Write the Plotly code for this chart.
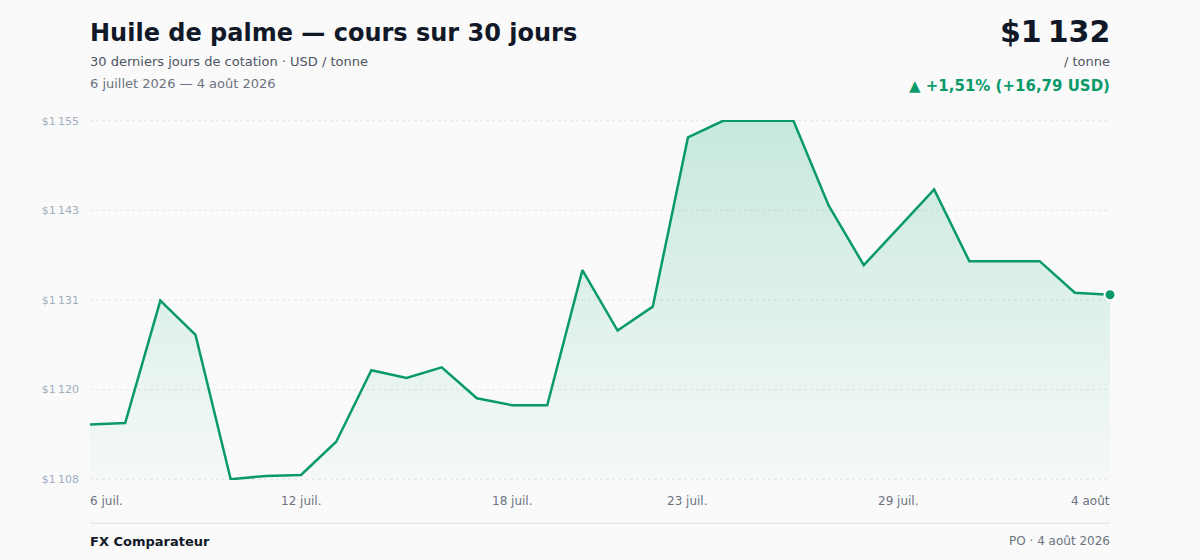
import plotly.graph_objects as go

# Données : cours quotidien de l'huile de palme (USD / tonne)
dates = [
    "2026-07-06", "2026-07-07", "2026-07-08", "2026-07-09", "2026-07-10",
    "2026-07-11", "2026-07-12", "2026-07-13", "2026-07-14", "2026-07-15",
    "2026-07-16", "2026-07-17", "2026-07-18", "2026-07-19", "2026-07-20",
    "2026-07-21", "2026-07-22", "2026-07-23", "2026-07-24", "2026-07-25",
    "2026-07-26", "2026-07-27", "2026-07-28", "2026-07-29", "2026-07-30",
    "2026-07-31", "2026-08-01", "2026-08-02", "2026-08-03", "2026-08-04",
]
prices = [
    1115.07, 1115.25, 1131.26, 1126.79, 1107.90,
    1108.33, 1108.46, 1112.81, 1122.17, 1121.15,
    1122.53, 1118.49, 1117.58, 1117.58, 1135.26,
    1127.35, 1130.48, 1152.62, 1154.80, 1154.80,
    1154.80, 1143.73, 1135.91, 1140.86, 1145.81,
    1136.43, 1136.43, 1136.43, 1132.30, 1132.04,
]

x_tick_dates = ["2026-07-06", "2026-07-12", "2026-07-18", "2026-07-23", "2026-07-29", "2026-08-04"]
x_tick_labels = ["6 juil.", "12 juil.", "18 juil.", "23 juil.", "29 juil.", "4 août"]
y_tick_labels = ["$1\u2009108", "$1\u2009120", "$1\u2009131", "$1\u2009143", "$1\u2009155"]

GREEN = "#0a9a6a"
FONT = "DejaVu Sans"

y_min, y_max = min(prices), max(prices)
y_ticks = [y_min + i * (y_max - y_min) / 4 for i in range(5)]

fig = go.Figure()

# lignes de grille pointillées (aussi aux bords)
for t in y_ticks:
    fig.add_hline(y=t, line=dict(color="#e3e6ea", width=1, dash="dot"), layer="below")

# courbe + remplissage en dégradé
fig.add_trace(go.Scatter(
    x=dates, y=[y_min] * len(dates), mode="lines",
    line=dict(width=0), hoverinfo="skip", showlegend=False,
))
fig.add_trace(go.Scatter(
    x=dates, y=prices, mode="lines",
    line=dict(color=GREEN, width=2.5),
    fill="tonexty",
    fillgradient=dict(
        type="vertical", start=y_min, stop=y_max,
        colorscale=[[0, "rgba(16,170,120,0.02)"], [1, "rgba(16,170,120,0.22)"]],
    ),
    showlegend=False,
))
# dernier point
fig.add_trace(go.Scatter(
    x=[dates[-1]], y=[prices[-1]], mode="markers",
    marker=dict(color=GREEN, size=11, line=dict(color="white", width=2)),
    showlegend=False, cliponaxis=False,
))

# libellés de l'axe x
anchors = ["left", "center", "center", "center", "center", "right"]
shifts = [-2, 0, 0, 0, 0, 2]
for d, lab, a, s in zip(x_tick_dates, x_tick_labels, anchors, shifts):
    fig.add_annotation(x=d, y=0, xref="x", yref="paper", yanchor="top", yshift=-12, xshift=s,
                       text=lab, showarrow=False, xanchor=a,
                       font=dict(size=12, color="#6b7280", family=FONT))

# en-tête
fig.add_annotation(x=0, y=1, xref="paper", yref="paper", xanchor="left", yanchor="bottom",
                   xshift=-2, yshift=71, text="<b>Huile de palme — cours sur 30 jours</b>",
                   showarrow=False, font=dict(size=24, color="#111827", family=FONT))
fig.add_annotation(x=0, y=1, xref="paper", yref="paper", xanchor="left", yanchor="bottom",
                   xshift=-2, yshift=49, text="30 derniers jours de cotation · USD / tonne",
                   showarrow=False, font=dict(size=13, color="#4b5563", family=FONT))
fig.add_annotation(x=0, y=1, xref="paper", yref="paper", xanchor="left", yanchor="bottom",
                   xshift=-2, yshift=27, text="6 juillet 2026 — 4 août 2026",
                   showarrow=False, font=dict(size=13, color="#6b7280", family=FONT))
fig.add_annotation(x=1, y=1, xref="paper", yref="paper", xanchor="right", yanchor="bottom",
                   xshift=2, yshift=69, text="<b>$1\u2009132</b>", showarrow=False,
                   font=dict(size=30, color="#111827", family=FONT))
fig.add_annotation(x=1, y=1, xref="paper", yref="paper", xanchor="right", yanchor="bottom",
                   xshift=2, yshift=49, text="/ tonne", showarrow=False,
                   font=dict(size=13, color="#4b5563", family=FONT))
fig.add_annotation(x=1, y=1, xref="paper", yref="paper", xanchor="right", yanchor="bottom",
                   xshift=2, yshift=23, text="<b>▲ +1,51% (+16,79 USD)</b>", showarrow=False,
                   font=dict(size=15, color=GREEN, family=FONT))

# pied de page
fig.add_shape(type="line", xref="paper", yref="paper", x0=0, x1=1, y0=-0.12, y1=-0.12,
              line=dict(color="#e5e7eb", width=1.5))
fig.add_annotation(x=0, y=0, xref="paper", yref="paper", xanchor="left", yanchor="middle",
                   xshift=-2, yshift=-61, text="<b>FX Comparateur</b>", showarrow=False,
                   font=dict(size=13, color="#111827", family=FONT))
fig.add_annotation(x=1, y=0, xref="paper", yref="paper", xanchor="right", yanchor="middle",
                   xshift=2, yshift=-61, text="PO · 4 août 2026", showarrow=False,
                   font=dict(size=12, color="#6b7280", family=FONT))

fig.update_layout(
    width=1200, height=560,
    margin=dict(l=90, r=90, t=120, b=80),
    paper_bgcolor="#fafafa", plot_bgcolor="#fafafa",
    font=dict(family=FONT),
    xaxis=dict(range=[dates[0], dates[-1]], showgrid=False, zeroline=False,
               showticklabels=False, showline=False, fixedrange=True),
    yaxis=dict(range=[y_min - 0.1, y_max + 0.1], tickvals=y_ticks, ticktext=y_tick_labels,
               showgrid=False, zeroline=False, showline=False, ticks="", ticklabelstandoff=10,
               tickfont=dict(size=11, color="#a0aec0", family=FONT), fixedrange=True),
    hovermode=False,
)

fig.write_html("out.html", config={"displayModeBar": False},
               post_script="document.body.style.margin='0';")
